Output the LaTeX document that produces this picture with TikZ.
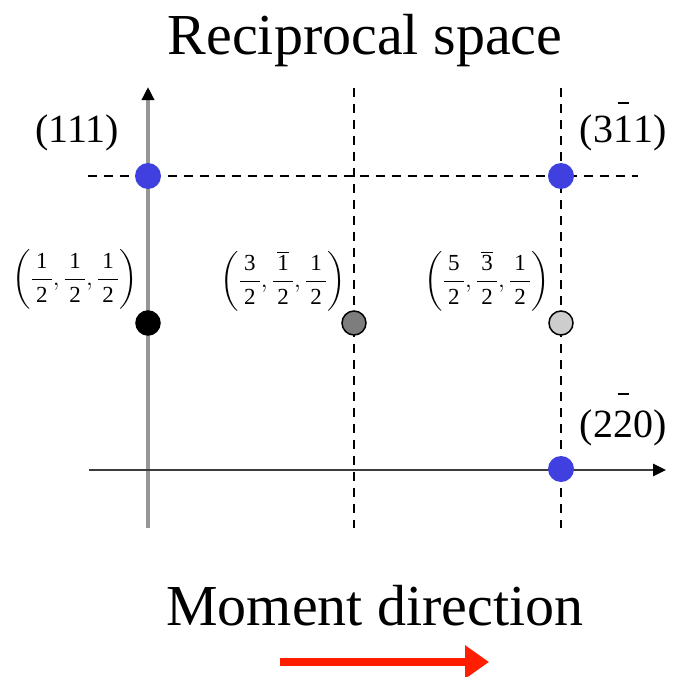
\documentclass[tikz,border=0pt]{standalone}
\usepackage{amsmath}
\usepackage{fontspec}
\setmainfont{Liberation Serif}
\usetikzlibrary{arrows.meta}
\definecolor{dotblue}{RGB}{64,64,224}
\definecolor{axisgray}{RGB}{150,150,150}
\definecolor{axisdark}{RGB}{60,60,60}
\definecolor{midgray}{RGB}{125,125,125}
\definecolor{lightgray}{RGB}{205,205,205}
\definecolor{arrowred}{RGB}{255,30,0}
\newcommand{\ovbar}[2][1em]{\setbox0\hbox{#2}\hbox{\rlap{\hbox to \wd0{\hfil\raisebox{#1}{\rule{0.55\wd0}{0.05em}}\hfil}}\box0}}
\newcommand{\padd}[1]{\hspace{0.18em}#1\hspace{0.18em}}
\newcommand{\fr}[1]{\dfrac{\padd{#1}}{\padd{\text{2}}}}
\tikzset{
  guide/.style={draw=black, line width=1.6pt, dash pattern=on 9pt off 7pt},
  bigtext/.style={font=\fontsize{58}{60}\selectfont, anchor=base, inner sep=0pt},
  hkl/.style={font=\fontsize{40}{42}\selectfont, anchor=base, inner sep=0pt},
  frac/.style={font=\fontsize{23}{25}\selectfont, inner sep=0pt},
  bluedot/.style={circle, fill=dotblue, minimum size=26pt, inner sep=0pt},
  kdot/.style={circle, draw=black, line width=1.5pt, minimum size=24pt, inner sep=0pt},
}
\begin{document}
\begin{tikzpicture}[x=1pt,y=-1pt]
\useasboundingbox (0,0) rectangle (675,677);
% guide lines
\coordinate (d1t) at (354,88);
\coordinate (d1b) at (354,528);
\coordinate (d2t) at (561,88);
\coordinate (d2b) at (561,528);
\coordinate (hl) at (88,176);
\coordinate (hr) at (638,176);
\draw[guide] (d1t) -- (d1b);
\draw[guide] (d2t) -- (d2b);
\draw[guide] (hl) -- (hr);
% axes
\coordinate (vbot) at (148,528);
\coordinate (vtop) at (148,87);
\coordinate (hleft) at (89,470);
\coordinate (hright) at (666,470);
\draw[draw=axisgray, line width=4pt, -{Triangle[length=13pt,width=12pt,color=black,fill=black]}] (vbot) -- (vtop);
\draw[draw=axisdark, line width=2.8pt, -{Triangle[length=13pt,width=12pt,color=black,fill=black]}] (hleft) -- (hright);
% dots
\node[bluedot] (b111) at (148,176) {};
\node[bluedot] (b311) at (561,176) {};
\node[bluedot] (b220) at (561,469) {};
\node[kdot, fill=black] (h1) at (148,323) {};
\node[kdot, fill=midgray] (h2) at (354,323) {};
\node[kdot, fill=lightgray] (h3) at (561,323) {};
% texts
\node[bigtext] (title) at (365,55) {Reciprocal space};
\node[bigtext] (moment) at (375,625) {Moment direction};
\node[hkl] (l111) at (77,142) {(111)};
\node[hkl] (l311) at (623,142) {(3\ovbar[0.96em]{1}1)};
\node[hkl] (l220) at (623,437) {(2\ovbar[1.05em]{2}0)};
\node[frac] (f1) at (75,279) {$\left(\fr{\text{1}},\fr{\text{1}},\fr{\text{1}}\right)$};
\node[frac] (f2) at (283,281) {$\left(\fr{\text{3}},\fr{\overline{\text{1}}},\fr{\text{1}}\right)$};
\node[frac] (f3) at (487,281) {$\left(\fr{\text{5}},\fr{\overline{\text{3}}},\fr{\text{1}}\right)$};
% moment arrow
\coordinate (ms) at (280,662);
\coordinate (me) at (489,662);
\draw[draw=arrowred, line width=8pt, -{Triangle[length=24pt,width=32pt,color=arrowred,fill=arrowred]}] (ms) -- (me);
\end{tikzpicture}
\end{document}
